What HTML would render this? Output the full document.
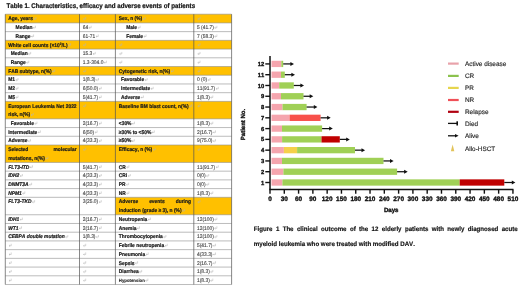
<!DOCTYPE html>
<html><head><meta charset="utf-8"><title>Table and figure</title><style>
html,body{margin:0;padding:0;background:#fff;width:520px;height:288px;overflow:hidden}
body{font-family:"Liberation Sans",sans-serif}
svg{display:block;will-change:transform}
text{font-kerning:none;text-rendering:geometricPrecision}
</style></head><body>
<svg width="520" height="288" viewBox="0 0 520 288" font-family="'Liberation Sans', sans-serif" fill="#111" text-rendering="geometricPrecision" stroke-linejoin="round">
<rect width="520" height="288" fill="#fff"/>
<rect x="5.3" y="14.20" width="226.30" height="8.72" fill="#FFC000"/>
<rect x="5.3" y="40.36" width="226.30" height="8.72" fill="#FFC000"/>
<rect x="5.3" y="66.52" width="226.30" height="8.72" fill="#FFC000"/>
<rect x="5.3" y="101.40" width="226.30" height="17.44" fill="#FFC000"/>
<rect x="5.3" y="145.00" width="226.30" height="17.44" fill="#FFC000"/>
<rect x="115.4" y="197.32" width="116.20" height="17.44" fill="#FFC000"/>
<line x1="5.3" x2="231.6" y1="14.20" y2="14.20" stroke="#8f8f8f" stroke-width="0.6"/>
<line x1="5.3" x2="231.6" y1="22.92" y2="22.92" stroke="#8f8f8f" stroke-width="0.6"/>
<line x1="5.3" x2="231.6" y1="31.64" y2="31.64" stroke="#8f8f8f" stroke-width="0.6"/>
<line x1="5.3" x2="231.6" y1="40.36" y2="40.36" stroke="#8f8f8f" stroke-width="0.6"/>
<line x1="5.3" x2="231.6" y1="49.08" y2="49.08" stroke="#8f8f8f" stroke-width="0.6"/>
<line x1="5.3" x2="231.6" y1="57.80" y2="57.80" stroke="#8f8f8f" stroke-width="0.6"/>
<line x1="5.3" x2="231.6" y1="66.52" y2="66.52" stroke="#8f8f8f" stroke-width="0.6"/>
<line x1="5.3" x2="231.6" y1="75.24" y2="75.24" stroke="#8f8f8f" stroke-width="0.6"/>
<line x1="5.3" x2="231.6" y1="83.96" y2="83.96" stroke="#8f8f8f" stroke-width="0.6"/>
<line x1="5.3" x2="231.6" y1="92.68" y2="92.68" stroke="#8f8f8f" stroke-width="0.6"/>
<line x1="5.3" x2="231.6" y1="101.40" y2="101.40" stroke="#8f8f8f" stroke-width="0.6"/>
<line x1="5.3" x2="231.6" y1="118.84" y2="118.84" stroke="#8f8f8f" stroke-width="0.6"/>
<line x1="5.3" x2="231.6" y1="127.56" y2="127.56" stroke="#8f8f8f" stroke-width="0.6"/>
<line x1="5.3" x2="231.6" y1="136.28" y2="136.28" stroke="#8f8f8f" stroke-width="0.6"/>
<line x1="5.3" x2="231.6" y1="145.00" y2="145.00" stroke="#8f8f8f" stroke-width="0.6"/>
<line x1="5.3" x2="231.6" y1="162.44" y2="162.44" stroke="#8f8f8f" stroke-width="0.6"/>
<line x1="5.3" x2="231.6" y1="171.16" y2="171.16" stroke="#8f8f8f" stroke-width="0.6"/>
<line x1="5.3" x2="231.6" y1="179.88" y2="179.88" stroke="#8f8f8f" stroke-width="0.6"/>
<line x1="5.3" x2="231.6" y1="188.60" y2="188.60" stroke="#8f8f8f" stroke-width="0.6"/>
<line x1="5.3" x2="231.6" y1="197.32" y2="197.32" stroke="#8f8f8f" stroke-width="0.6"/>
<line x1="5.3" x2="231.6" y1="214.76" y2="214.76" stroke="#8f8f8f" stroke-width="0.6"/>
<line x1="5.3" x2="231.6" y1="223.48" y2="223.48" stroke="#8f8f8f" stroke-width="0.6"/>
<line x1="5.3" x2="231.6" y1="232.20" y2="232.20" stroke="#8f8f8f" stroke-width="0.6"/>
<line x1="5.3" x2="231.6" y1="240.92" y2="240.92" stroke="#8f8f8f" stroke-width="0.6"/>
<line x1="5.3" x2="231.6" y1="249.64" y2="249.64" stroke="#8f8f8f" stroke-width="0.6"/>
<line x1="5.3" x2="231.6" y1="258.36" y2="258.36" stroke="#8f8f8f" stroke-width="0.6"/>
<line x1="5.3" x2="231.6" y1="267.08" y2="267.08" stroke="#8f8f8f" stroke-width="0.6"/>
<line x1="5.3" x2="231.6" y1="275.80" y2="275.80" stroke="#8f8f8f" stroke-width="0.6"/>
<line x1="5.3" x2="231.6" y1="284.52" y2="284.52" stroke="#8f8f8f" stroke-width="0.6"/>
<line x1="5.3" x2="5.3" y1="14.2" y2="284.52" stroke="#555" stroke-width="0.7"/>
<line x1="79.5" x2="79.5" y1="14.2" y2="284.52" stroke="#555" stroke-width="0.7"/>
<line x1="115.4" x2="115.4" y1="14.2" y2="284.52" stroke="#555" stroke-width="0.7"/>
<line x1="193.8" x2="193.8" y1="14.2" y2="284.52" stroke="#555" stroke-width="0.7"/>
<line x1="231.6" x2="231.6" y1="14.2" y2="284.52" stroke="#555" stroke-width="0.7"/>
<text transform="translate(8.20 20.35) scale(1.0000 1.0800)" font-size="4.9" font-weight="bold" fill="#1a1a1a" stroke="#1a1a1a" stroke-width="0.19">Age, years</text>
<path d="M35.99 17.05V19.05H33.79M34.69 18.25L33.79 19.05L34.69 19.85" stroke="#b4b4b4" stroke-width="0.55" fill="none"/>
<path d="M85.70 17.05V19.05H83.50M84.40 18.25L83.50 19.05L84.40 19.85" stroke="#b4b4b4" stroke-width="0.55" fill="none"/>
<text transform="translate(118.80 20.35) scale(1.0000 1.0800)" font-size="4.9" font-weight="bold" fill="#1a1a1a" stroke="#1a1a1a" stroke-width="0.19">Sex, n (%)</text>
<path d="M145.22 17.05V19.05H143.02M143.92 18.25L143.02 19.05L143.92 19.85" stroke="#b4b4b4" stroke-width="0.55" fill="none"/>
<path d="M200.00 17.05V19.05H197.80M198.70 18.25L197.80 19.05L198.70 19.85" stroke="#b4b4b4" stroke-width="0.55" fill="none"/>
<text transform="translate(15.60 29.07) scale(1.0000 1.0800)" font-size="4.9" font-weight="bold" fill="#1a1a1a" stroke="#1a1a1a" stroke-width="0.19">Median</text>
<path d="M35.48 25.77V27.77H33.28M34.18 26.97L33.28 27.77L34.18 28.57" stroke="#b4b4b4" stroke-width="0.55" fill="none"/>
<text transform="translate(82.70 29.07) scale(1.0000 1.0800)" font-size="4.9" fill="#4a4a4a" stroke="#4a4a4a" stroke-width="0.12">64</text>
<path d="M91.15 25.77V27.77H88.95M89.85 26.97L88.95 27.77L89.85 28.57" stroke="#b4b4b4" stroke-width="0.55" fill="none"/>
<text transform="translate(126.20 29.07) scale(1.0000 1.0800)" font-size="4.9" font-weight="bold" fill="#1a1a1a" stroke="#1a1a1a" stroke-width="0.19">Male</text>
<path d="M140.09 25.77V27.77H137.89M138.79 26.97L137.89 27.77L138.79 28.57" stroke="#b4b4b4" stroke-width="0.55" fill="none"/>
<text transform="translate(197.00 29.07) scale(1.0000 1.0800)" font-size="4.9" fill="#4a4a4a" stroke="#4a4a4a" stroke-width="0.12">5 (41.7)</text>
<path d="M216.89 25.77V27.77H214.69M215.59 26.97L214.69 27.77L215.59 28.57" stroke="#b4b4b4" stroke-width="0.55" fill="none"/>
<text transform="translate(15.60 37.79) scale(1.0000 1.0800)" font-size="4.9" font-weight="bold" fill="#1a1a1a" stroke="#1a1a1a" stroke-width="0.19">Range</text>
<path d="M33.58 34.49V36.49H31.38M32.28 35.69L31.38 36.49L32.28 37.29" stroke="#b4b4b4" stroke-width="0.55" fill="none"/>
<text transform="translate(82.70 37.79) scale(1.0000 1.0800)" font-size="4.9" fill="#4a4a4a" stroke="#4a4a4a" stroke-width="0.12">61-71</text>
<path d="M98.23 34.49V36.49H96.03M96.93 35.69L96.03 36.49L96.93 37.29" stroke="#b4b4b4" stroke-width="0.55" fill="none"/>
<text transform="translate(126.20 37.79) scale(1.0000 1.0800)" font-size="4.9" font-weight="bold" fill="#1a1a1a" stroke="#1a1a1a" stroke-width="0.19">Female</text>
<path d="M146.09 34.49V36.49H143.89M144.79 35.69L143.89 36.49L144.79 37.29" stroke="#b4b4b4" stroke-width="0.55" fill="none"/>
<text transform="translate(197.00 37.79) scale(1.0000 1.0800)" font-size="4.9" fill="#4a4a4a" stroke="#4a4a4a" stroke-width="0.12">7 (58.3)</text>
<path d="M216.89 34.49V36.49H214.69M215.59 35.69L214.69 36.49L215.59 37.29" stroke="#b4b4b4" stroke-width="0.55" fill="none"/>
<text transform="translate(8.20 46.51) scale(1.0000 1.0800)" font-size="4.9" font-weight="bold" fill="#1a1a1a" stroke="#1a1a1a" stroke-width="0.19">White cell counts (×10</text>
<text transform="translate(59.80 44.91) scale(1.0000 1.0800)" font-size="3.283" font-weight="bold" fill="#1a1a1a" stroke="#1a1a1a" stroke-width="0.13">9</text>
<text transform="translate(61.62 46.51) scale(1.0000 1.0800)" font-size="4.9" font-weight="bold" fill="#1a1a1a" stroke="#1a1a1a" stroke-width="0.19">/L)</text>
<path d="M70.61 43.21V45.21H68.41M69.31 44.41L68.41 45.21L69.31 46.01" stroke="#b4b4b4" stroke-width="0.55" fill="none"/>
<path d="M85.70 43.21V45.21H83.50M84.40 44.41L83.50 45.21L84.40 46.01" stroke="#b4b4b4" stroke-width="0.55" fill="none"/>
<path d="M121.80 43.21V45.21H119.60M120.50 44.41L119.60 45.21L120.50 46.01" stroke="#b4b4b4" stroke-width="0.55" fill="none"/>
<path d="M200.00 43.21V45.21H197.80M198.70 44.41L197.80 45.21L198.70 46.01" stroke="#b4b4b4" stroke-width="0.55" fill="none"/>
<text transform="translate(10.79 55.23) scale(1.0000 1.0800)" font-size="4.9" font-weight="bold" fill="#1a1a1a" stroke="#1a1a1a" stroke-width="0.19">Median</text>
<path d="M30.67 51.93V53.93H28.47M29.37 53.13L28.47 53.93L29.37 54.73" stroke="#b4b4b4" stroke-width="0.55" fill="none"/>
<text transform="translate(82.70 55.23) scale(1.0000 1.0800)" font-size="4.9" fill="#4a4a4a" stroke="#4a4a4a" stroke-width="0.12">15.3</text>
<path d="M95.24 51.93V53.93H93.04M93.94 53.13L93.04 53.93L93.94 54.73" stroke="#b4b4b4" stroke-width="0.55" fill="none"/>
<path d="M121.80 51.93V53.93H119.60M120.50 53.13L119.60 53.93L120.50 54.73" stroke="#b4b4b4" stroke-width="0.55" fill="none"/>
<path d="M200.00 51.93V53.93H197.80M198.70 53.13L197.80 53.93L198.70 54.73" stroke="#b4b4b4" stroke-width="0.55" fill="none"/>
<text transform="translate(10.79 63.95) scale(1.0000 1.0800)" font-size="4.9" font-weight="bold" fill="#1a1a1a" stroke="#1a1a1a" stroke-width="0.19">Range</text>
<path d="M28.77 60.65V62.65H26.57M27.47 61.85L26.57 62.65L27.47 63.45" stroke="#b4b4b4" stroke-width="0.55" fill="none"/>
<text transform="translate(82.70 63.95) scale(1.0000 1.0800)" font-size="4.9" fill="#4a4a4a" stroke="#4a4a4a" stroke-width="0.12">1.3-304.0</text>
<path d="M106.41 60.65V62.65H104.21M105.11 61.85L104.21 62.65L105.11 63.45" stroke="#b4b4b4" stroke-width="0.55" fill="none"/>
<path d="M121.80 60.65V62.65H119.60M120.50 61.85L119.60 62.65L120.50 63.45" stroke="#b4b4b4" stroke-width="0.55" fill="none"/>
<path d="M200.00 60.65V62.65H197.80M198.70 61.85L197.80 62.65L198.70 63.45" stroke="#b4b4b4" stroke-width="0.55" fill="none"/>
<text transform="translate(8.20 72.67) scale(1.0000 1.0800)" font-size="4.9" font-weight="bold" fill="#1a1a1a" stroke="#1a1a1a" stroke-width="0.19">FAB subtype, n(%)</text>
<path d="M54.75 69.37V71.37H52.55M53.45 70.57L52.55 71.37L53.45 72.17" stroke="#b4b4b4" stroke-width="0.55" fill="none"/>
<path d="M85.70 69.37V71.37H83.50M84.40 70.57L83.50 71.37L84.40 72.17" stroke="#b4b4b4" stroke-width="0.55" fill="none"/>
<text transform="translate(118.80 72.67) scale(1.0000 1.0800)" font-size="4.9" font-weight="bold" fill="#1a1a1a" stroke="#1a1a1a" stroke-width="0.19">Cytogenetic risk, n(%)</text>
<path d="M173.26 69.37V71.37H171.06M171.96 70.57L171.06 71.37L171.96 72.17" stroke="#b4b4b4" stroke-width="0.55" fill="none"/>
<path d="M200.00 69.37V71.37H197.80M198.70 70.57L197.80 71.37L198.70 72.17" stroke="#b4b4b4" stroke-width="0.55" fill="none"/>
<text transform="translate(8.20 81.39) scale(1.0000 1.0800)" font-size="4.9" font-weight="bold" fill="#1a1a1a" stroke="#1a1a1a" stroke-width="0.19">M1</text>
<path d="M18.01 78.09V80.09H15.81M16.71 79.29L15.81 80.09L16.71 80.89" stroke="#b4b4b4" stroke-width="0.55" fill="none"/>
<text transform="translate(82.70 81.39) scale(1.0000 1.0800)" font-size="4.9" fill="#4a4a4a" stroke="#4a4a4a" stroke-width="0.12">1(8.3)</text>
<path d="M98.50 78.09V80.09H96.30M97.20 79.29L96.30 80.09L97.20 80.89" stroke="#b4b4b4" stroke-width="0.55" fill="none"/>
<text transform="translate(121.02 81.39) scale(1.0000 1.0800)" font-size="4.9" font-weight="bold" fill="#1a1a1a" stroke="#1a1a1a" stroke-width="0.19">Favorable</text>
<path d="M147.17 78.09V80.09H144.97M145.87 79.29L144.97 80.09L145.87 80.89" stroke="#b4b4b4" stroke-width="0.55" fill="none"/>
<text transform="translate(197.00 81.39) scale(1.0000 1.0800)" font-size="4.9" fill="#4a4a4a" stroke="#4a4a4a" stroke-width="0.12">0 (0)</text>
<path d="M210.08 78.09V80.09H207.88M208.78 79.29L207.88 80.09L208.78 80.89" stroke="#b4b4b4" stroke-width="0.55" fill="none"/>
<text transform="translate(8.20 90.11) scale(1.0000 1.0800)" font-size="4.9" font-weight="bold" fill="#1a1a1a" stroke="#1a1a1a" stroke-width="0.19">M2</text>
<path d="M18.01 86.81V88.81H15.81M16.71 88.01L15.81 88.81L16.71 89.61" stroke="#b4b4b4" stroke-width="0.55" fill="none"/>
<text transform="translate(82.70 90.11) scale(1.0000 1.0800)" font-size="4.9" fill="#4a4a4a" stroke="#4a4a4a" stroke-width="0.12">6(50.0)</text>
<path d="M101.23 86.81V88.81H99.03M99.93 88.01L99.03 88.81L99.93 89.61" stroke="#b4b4b4" stroke-width="0.55" fill="none"/>
<text transform="translate(121.02 90.11) scale(1.0000 1.0800)" font-size="4.9" font-weight="bold" fill="#1a1a1a" stroke="#1a1a1a" stroke-width="0.19">Intermediate</text>
<path d="M153.16 86.81V88.81H150.96M151.86 88.01L150.96 88.81L151.86 89.61" stroke="#b4b4b4" stroke-width="0.55" fill="none"/>
<text transform="translate(197.00 90.11) scale(1.0000 1.0800)" font-size="4.9" fill="#4a4a4a" stroke="#4a4a4a" stroke-width="0.12">11(91.7)</text>
<path d="M218.25 86.81V88.81H216.05M216.95 88.01L216.05 88.81L216.95 89.61" stroke="#b4b4b4" stroke-width="0.55" fill="none"/>
<text transform="translate(8.20 98.83) scale(1.0000 1.0800)" font-size="4.9" font-weight="bold" fill="#1a1a1a" stroke="#1a1a1a" stroke-width="0.19">M5</text>
<path d="M18.01 95.53V97.53H15.81M16.71 96.73L15.81 97.53L16.71 98.33" stroke="#b4b4b4" stroke-width="0.55" fill="none"/>
<text transform="translate(82.70 98.83) scale(1.0000 1.0800)" font-size="4.9" fill="#4a4a4a" stroke="#4a4a4a" stroke-width="0.12">5(41.7)</text>
<path d="M101.23 95.53V97.53H99.03M99.93 96.73L99.03 97.53L99.93 98.33" stroke="#b4b4b4" stroke-width="0.55" fill="none"/>
<text transform="translate(121.02 98.83) scale(1.0000 1.0800)" font-size="4.9" font-weight="bold" fill="#1a1a1a" stroke="#1a1a1a" stroke-width="0.19">Adverse</text>
<path d="M143.36 95.53V97.53H141.16M142.06 96.73L141.16 97.53L142.06 98.33" stroke="#b4b4b4" stroke-width="0.55" fill="none"/>
<text transform="translate(197.00 98.83) scale(1.0000 1.0800)" font-size="4.9" fill="#4a4a4a" stroke="#4a4a4a" stroke-width="0.12">1(8.3)</text>
<path d="M212.80 95.53V97.53H210.60M211.50 96.73L210.60 97.53L211.50 98.33" stroke="#b4b4b4" stroke-width="0.55" fill="none"/>
<text transform="translate(8.20 107.55) scale(1.0000 1.0800)" font-size="4.9" font-weight="bold" fill="#1a1a1a" stroke="#1a1a1a" stroke-width="0.19">European</text>
<text transform="translate(32.26 107.55) scale(1.0000 1.0800)" font-size="4.9" font-weight="bold" fill="#1a1a1a" stroke="#1a1a1a" stroke-width="0.19">Leukemia</text>
<text transform="translate(56.34 107.55) scale(1.0000 1.0800)" font-size="4.9" font-weight="bold" fill="#1a1a1a" stroke="#1a1a1a" stroke-width="0.19">Net</text>
<text transform="translate(65.70 107.55) scale(1.0000 1.0800)" font-size="4.9" font-weight="bold" fill="#1a1a1a" stroke="#1a1a1a" stroke-width="0.19">2022</text>
<text transform="translate(8.20 116.27) scale(1.0000 1.0800)" font-size="4.9" font-weight="bold" fill="#1a1a1a" stroke="#1a1a1a" stroke-width="0.19">risk, n(%)</text>
<path d="M33.25 112.97V114.97H31.05M31.95 114.17L31.05 114.97L31.95 115.77" stroke="#b4b4b4" stroke-width="0.55" fill="none"/>
<path d="M85.70 104.25V106.25H83.50M84.40 105.45L83.50 106.25L84.40 107.05" stroke="#b4b4b4" stroke-width="0.55" fill="none"/>
<text transform="translate(118.80 107.55) scale(1.0000 1.0800)" font-size="4.9" font-weight="bold" fill="#1a1a1a" stroke="#1a1a1a" stroke-width="0.19">Baseline BM blast count, n(%)</text>
<path d="M191.77 104.25V106.25H189.57M190.47 105.45L189.57 106.25L190.47 107.05" stroke="#b4b4b4" stroke-width="0.55" fill="none"/>
<path d="M200.00 104.25V106.25H197.80M198.70 105.45L197.80 106.25L198.70 107.05" stroke="#b4b4b4" stroke-width="0.55" fill="none"/>
<text transform="translate(10.79 124.99) scale(1.0000 1.0800)" font-size="4.9" font-weight="bold" fill="#1a1a1a" stroke="#1a1a1a" stroke-width="0.19">Favorable</text>
<path d="M36.94 121.69V123.69H34.74M35.64 122.89L34.74 123.69L35.64 124.49" stroke="#b4b4b4" stroke-width="0.55" fill="none"/>
<text transform="translate(82.70 124.99) scale(1.0000 1.0800)" font-size="4.9" fill="#4a4a4a" stroke="#4a4a4a" stroke-width="0.12">2(16.7)</text>
<path d="M101.23 121.69V123.69H99.03M99.93 122.89L99.03 123.69L99.93 124.49" stroke="#b4b4b4" stroke-width="0.55" fill="none"/>
<text transform="translate(118.80 124.99) scale(1.0000 1.0800)" font-size="4.9" font-weight="bold" fill="#1a1a1a" stroke="#1a1a1a" stroke-width="0.19">&lt;30%</text>
<path d="M134.47 121.69V123.69H132.27M133.17 122.89L132.27 123.69L133.17 124.49" stroke="#b4b4b4" stroke-width="0.55" fill="none"/>
<text transform="translate(197.00 124.99) scale(1.0000 1.0800)" font-size="4.9" fill="#4a4a4a" stroke="#4a4a4a" stroke-width="0.12">1(8.3)</text>
<path d="M212.80 121.69V123.69H210.60M211.50 122.89L210.60 123.69L211.50 124.49" stroke="#b4b4b4" stroke-width="0.55" fill="none"/>
<text transform="translate(8.20 133.71) scale(1.0000 1.0800)" font-size="4.9" font-weight="bold" fill="#1a1a1a" stroke="#1a1a1a" stroke-width="0.19">Intermediate</text>
<path d="M40.34 130.41V132.41H38.14M39.04 131.61L38.14 132.41L39.04 133.21" stroke="#b4b4b4" stroke-width="0.55" fill="none"/>
<text transform="translate(82.70 133.71) scale(1.0000 1.0800)" font-size="4.9" fill="#4a4a4a" stroke="#4a4a4a" stroke-width="0.12">6(50)</text>
<path d="M97.14 130.41V132.41H94.94M95.84 131.61L94.94 132.41L95.84 133.21" stroke="#b4b4b4" stroke-width="0.55" fill="none"/>
<text transform="translate(118.80 133.71) scale(1.0000 1.0800)" font-size="4.9" font-weight="bold" fill="#1a1a1a" stroke="#1a1a1a" stroke-width="0.19">≥30% to &lt;50%</text>
<path d="M154.31 130.41V132.41H152.11M153.01 131.61L152.11 132.41L153.01 133.21" stroke="#b4b4b4" stroke-width="0.55" fill="none"/>
<text transform="translate(197.00 133.71) scale(1.0000 1.0800)" font-size="4.9" fill="#4a4a4a" stroke="#4a4a4a" stroke-width="0.12">2(16.7)</text>
<path d="M215.53 130.41V132.41H213.33M214.23 131.61L213.33 132.41L214.23 133.21" stroke="#b4b4b4" stroke-width="0.55" fill="none"/>
<text transform="translate(8.20 142.43) scale(1.0000 1.0800)" font-size="4.9" font-weight="bold" fill="#1a1a1a" stroke="#1a1a1a" stroke-width="0.19">Adverse</text>
<path d="M30.54 139.13V141.13H28.34M29.24 140.33L28.34 141.13L29.24 141.93" stroke="#b4b4b4" stroke-width="0.55" fill="none"/>
<text transform="translate(82.70 142.43) scale(1.0000 1.0800)" font-size="4.9" fill="#4a4a4a" stroke="#4a4a4a" stroke-width="0.12">4(33.3)</text>
<path d="M101.23 139.13V141.13H99.03M99.93 140.33L99.03 141.13L99.93 141.93" stroke="#b4b4b4" stroke-width="0.55" fill="none"/>
<text transform="translate(118.80 142.43) scale(1.0000 1.0800)" font-size="4.9" font-weight="bold" fill="#1a1a1a" stroke="#1a1a1a" stroke-width="0.19">≥50%</text>
<path d="M134.30 139.13V141.13H132.10M133.00 140.33L132.10 141.13L133.00 141.93" stroke="#b4b4b4" stroke-width="0.55" fill="none"/>
<text transform="translate(197.00 142.43) scale(1.0000 1.0800)" font-size="4.9" fill="#4a4a4a" stroke="#4a4a4a" stroke-width="0.12">9(75.0)</text>
<path d="M215.53 139.13V141.13H213.33M214.23 140.33L213.33 141.13L214.23 141.93" stroke="#b4b4b4" stroke-width="0.55" fill="none"/>
<text transform="translate(8.20 151.15) scale(1.0000 1.0800)" font-size="4.9" font-weight="bold" fill="#1a1a1a" stroke="#1a1a1a" stroke-width="0.19">Selected</text>
<text transform="translate(53.45 151.15) scale(1.0000 1.0800)" font-size="4.9" font-weight="bold" fill="#1a1a1a" stroke="#1a1a1a" stroke-width="0.19">molecular</text>
<text transform="translate(8.20 159.87) scale(1.0000 1.0800)" font-size="4.9" font-weight="bold" fill="#1a1a1a" stroke="#1a1a1a" stroke-width="0.19">mutations, n(%)</text>
<path d="M47.95 156.57V158.57H45.75M46.65 157.77L45.75 158.57L46.65 159.37" stroke="#b4b4b4" stroke-width="0.55" fill="none"/>
<path d="M85.70 147.85V149.85H83.50M84.40 149.05L83.50 149.85L84.40 150.65" stroke="#b4b4b4" stroke-width="0.55" fill="none"/>
<text transform="translate(118.80 151.15) scale(1.0000 1.0800)" font-size="4.9" font-weight="bold" fill="#1a1a1a" stroke="#1a1a1a" stroke-width="0.19">Efficacy, n (%)</text>
<path d="M155.29 147.85V149.85H153.09M153.99 149.05L153.09 149.85L153.99 150.65" stroke="#b4b4b4" stroke-width="0.55" fill="none"/>
<path d="M200.00 147.85V149.85H197.80M198.70 149.05L197.80 149.85L198.70 150.65" stroke="#b4b4b4" stroke-width="0.55" fill="none"/>
<text transform="translate(8.20 168.59) scale(1.0000 1.0800)" font-size="4.9" font-weight="bold" font-style="italic" fill="#1a1a1a" stroke="#1a1a1a" stroke-width="0.19">FLT3-ITD</text>
<path d="M32.43 165.29V167.29H30.23M31.13 166.49L30.23 167.29L31.13 168.09" stroke="#b4b4b4" stroke-width="0.55" fill="none"/>
<text transform="translate(82.70 168.59) scale(1.0000 1.0800)" font-size="4.9" fill="#4a4a4a" stroke="#4a4a4a" stroke-width="0.12">5(41.7)</text>
<path d="M101.23 165.29V167.29H99.03M99.93 166.49L99.03 167.29L99.93 168.09" stroke="#b4b4b4" stroke-width="0.55" fill="none"/>
<text transform="translate(118.80 168.59) scale(1.0000 1.0800)" font-size="4.9" font-weight="bold" fill="#1a1a1a" stroke="#1a1a1a" stroke-width="0.19">CR</text>
<path d="M128.88 165.29V167.29H126.68M127.58 166.49L126.68 167.29L127.58 168.09" stroke="#b4b4b4" stroke-width="0.55" fill="none"/>
<text transform="translate(197.00 168.59) scale(1.0000 1.0800)" font-size="4.9" fill="#4a4a4a" stroke="#4a4a4a" stroke-width="0.12">11(91.7)</text>
<path d="M218.25 165.29V167.29H216.05M216.95 166.49L216.05 167.29L216.95 168.09" stroke="#b4b4b4" stroke-width="0.55" fill="none"/>
<text transform="translate(8.20 177.31) scale(1.0000 1.0800)" font-size="4.9" font-weight="bold" font-style="italic" fill="#1a1a1a" stroke="#1a1a1a" stroke-width="0.19">IDH2</text>
<path d="M22.36 174.01V176.01H20.16M21.06 175.21L20.16 176.01L21.06 176.81" stroke="#b4b4b4" stroke-width="0.55" fill="none"/>
<text transform="translate(82.70 177.31) scale(1.0000 1.0800)" font-size="4.9" fill="#4a4a4a" stroke="#4a4a4a" stroke-width="0.12">4(33.3)</text>
<path d="M101.23 174.01V176.01H99.03M99.93 175.21L99.03 176.01L99.93 176.81" stroke="#b4b4b4" stroke-width="0.55" fill="none"/>
<text transform="translate(118.80 177.31) scale(1.0000 1.0800)" font-size="4.9" font-weight="bold" fill="#1a1a1a" stroke="#1a1a1a" stroke-width="0.19">CRi</text>
<path d="M130.24 174.01V176.01H128.04M128.94 175.21L128.04 176.01L128.94 176.81" stroke="#b4b4b4" stroke-width="0.55" fill="none"/>
<text transform="translate(197.00 177.31) scale(1.0000 1.0800)" font-size="4.9" fill="#4a4a4a" stroke="#4a4a4a" stroke-width="0.12">0(0)</text>
<path d="M208.71 174.01V176.01H206.51M207.41 175.21L206.51 176.01L207.41 176.81" stroke="#b4b4b4" stroke-width="0.55" fill="none"/>
<text transform="translate(8.20 186.03) scale(1.0000 1.0800)" font-size="4.9" font-weight="bold" font-style="italic" fill="#1a1a1a" stroke="#1a1a1a" stroke-width="0.19">DNMT3A</text>
<path d="M31.62 182.73V184.73H29.42M30.32 183.93L29.42 184.73L30.32 185.53" stroke="#b4b4b4" stroke-width="0.55" fill="none"/>
<text transform="translate(82.70 186.03) scale(1.0000 1.0800)" font-size="4.9" fill="#4a4a4a" stroke="#4a4a4a" stroke-width="0.12">4(33.3)</text>
<path d="M101.23 182.73V184.73H99.03M99.93 183.93L99.03 184.73L99.93 185.53" stroke="#b4b4b4" stroke-width="0.55" fill="none"/>
<text transform="translate(118.80 186.03) scale(1.0000 1.0800)" font-size="4.9" font-weight="bold" fill="#1a1a1a" stroke="#1a1a1a" stroke-width="0.19">PR</text>
<path d="M128.61 182.73V184.73H126.41M127.31 183.93L126.41 184.73L127.31 185.53" stroke="#b4b4b4" stroke-width="0.55" fill="none"/>
<text transform="translate(197.00 186.03) scale(1.0000 1.0800)" font-size="4.9" fill="#4a4a4a" stroke="#4a4a4a" stroke-width="0.12">0(0)</text>
<path d="M208.71 182.73V184.73H206.51M207.41 183.93L206.51 184.73L207.41 185.53" stroke="#b4b4b4" stroke-width="0.55" fill="none"/>
<text transform="translate(8.20 194.75) scale(1.0000 1.0800)" font-size="4.9" font-weight="bold" font-style="italic" fill="#1a1a1a" stroke="#1a1a1a" stroke-width="0.19">NPM1</text>
<path d="M24.81 191.45V193.45H22.61M23.51 192.65L22.61 193.45L23.51 194.25" stroke="#b4b4b4" stroke-width="0.55" fill="none"/>
<text transform="translate(82.70 194.75) scale(1.0000 1.0800)" font-size="4.9" fill="#4a4a4a" stroke="#4a4a4a" stroke-width="0.12">4(33.3)</text>
<path d="M101.23 191.45V193.45H99.03M99.93 192.65L99.03 193.45L99.93 194.25" stroke="#b4b4b4" stroke-width="0.55" fill="none"/>
<text transform="translate(118.80 194.75) scale(1.0000 1.0800)" font-size="4.9" font-weight="bold" fill="#1a1a1a" stroke="#1a1a1a" stroke-width="0.19">NR</text>
<path d="M128.88 191.45V193.45H126.68M127.58 192.65L126.68 193.45L127.58 194.25" stroke="#b4b4b4" stroke-width="0.55" fill="none"/>
<text transform="translate(197.00 194.75) scale(1.0000 1.0800)" font-size="4.9" fill="#4a4a4a" stroke="#4a4a4a" stroke-width="0.12">1(8.3)</text>
<path d="M212.80 191.45V193.45H210.60M211.50 192.65L210.60 193.45L211.50 194.25" stroke="#b4b4b4" stroke-width="0.55" fill="none"/>
<text transform="translate(8.20 203.47) scale(1.0000 1.0800)" font-size="4.9" font-weight="bold" font-style="italic" fill="#1a1a1a" stroke="#1a1a1a" stroke-width="0.19">FLT3-TKD</text>
<path d="M34.61 200.17V202.17H32.41M33.31 201.37L32.41 202.17L33.31 202.97" stroke="#b4b4b4" stroke-width="0.55" fill="none"/>
<text transform="translate(82.70 203.47) scale(1.0000 1.0800)" font-size="4.9" fill="#4a4a4a" stroke="#4a4a4a" stroke-width="0.12">3(25.0)</text>
<path d="M101.23 200.17V202.17H99.03M99.93 201.37L99.03 202.17L99.93 202.97" stroke="#b4b4b4" stroke-width="0.55" fill="none"/>
<text transform="translate(118.80 203.47) scale(1.0000 1.0800)" font-size="4.9" font-weight="bold" fill="#1a1a1a" stroke="#1a1a1a" stroke-width="0.19">Adverse</text>
<text transform="translate(149.14 203.47) scale(1.0000 1.0800)" font-size="4.9" font-weight="bold" fill="#1a1a1a" stroke="#1a1a1a" stroke-width="0.19">events</text>
<text transform="translate(175.66 203.47) scale(1.0000 1.0800)" font-size="4.9" font-weight="bold" fill="#1a1a1a" stroke="#1a1a1a" stroke-width="0.19">during</text>
<text transform="translate(118.80 212.19) scale(1.0000 1.0800)" font-size="4.9" font-weight="bold" fill="#1a1a1a" stroke="#1a1a1a" stroke-width="0.19">induction (grade ≥ 3), n (%)</text>
<path d="M184.65 208.89V210.89H182.45M183.35 210.09L182.45 210.89L183.35 211.69" stroke="#b4b4b4" stroke-width="0.55" fill="none"/>
<path d="M200.00 200.17V202.17H197.80M198.70 201.37L197.80 202.17L198.70 202.97" stroke="#b4b4b4" stroke-width="0.55" fill="none"/>
<text transform="translate(8.20 220.91) scale(1.0000 1.0800)" font-size="4.9" font-weight="bold" font-style="italic" fill="#1a1a1a" stroke="#1a1a1a" stroke-width="0.19">IDH1</text>
<path d="M22.36 217.61V219.61H20.16M21.06 218.81L20.16 219.61L21.06 220.41" stroke="#b4b4b4" stroke-width="0.55" fill="none"/>
<text transform="translate(82.70 220.91) scale(1.0000 1.0800)" font-size="4.9" fill="#4a4a4a" stroke="#4a4a4a" stroke-width="0.12">2(16.7)</text>
<path d="M101.23 217.61V219.61H99.03M99.93 218.81L99.03 219.61L99.93 220.41" stroke="#b4b4b4" stroke-width="0.55" fill="none"/>
<text transform="translate(118.80 220.91) scale(1.0000 1.0800)" font-size="4.9" font-weight="bold" fill="#1a1a1a" stroke="#1a1a1a" stroke-width="0.19">Neutropenia</text>
<path d="M150.39 217.61V219.61H148.19M149.09 218.81L148.19 219.61L149.09 220.41" stroke="#b4b4b4" stroke-width="0.55" fill="none"/>
<text transform="translate(197.00 220.91) scale(1.0000 1.0800)" font-size="4.9" fill="#4a4a4a" stroke="#4a4a4a" stroke-width="0.12">12(100)</text>
<path d="M216.89 217.61V219.61H214.69M215.59 218.81L214.69 219.61L215.59 220.41" stroke="#b4b4b4" stroke-width="0.55" fill="none"/>
<text transform="translate(8.20 229.63) scale(1.0000 1.0800)" font-size="4.9" font-weight="bold" font-style="italic" fill="#1a1a1a" stroke="#1a1a1a" stroke-width="0.19">WT1</text>
<path d="M21.54 226.33V228.33H19.34M20.24 227.53L19.34 228.33L20.24 229.13" stroke="#b4b4b4" stroke-width="0.55" fill="none"/>
<text transform="translate(82.70 229.63) scale(1.0000 1.0800)" font-size="4.9" fill="#4a4a4a" stroke="#4a4a4a" stroke-width="0.12">2(16.7)</text>
<path d="M101.23 226.33V228.33H99.03M99.93 227.53L99.03 228.33L99.93 229.13" stroke="#b4b4b4" stroke-width="0.55" fill="none"/>
<text transform="translate(118.80 229.63) scale(1.0000 1.0800)" font-size="4.9" font-weight="bold" fill="#1a1a1a" stroke="#1a1a1a" stroke-width="0.19">Anemia</text>
<path d="M139.50 226.33V228.33H137.30M138.20 227.53L137.30 228.33L138.20 229.13" stroke="#b4b4b4" stroke-width="0.55" fill="none"/>
<text transform="translate(197.00 229.63) scale(1.0000 1.0800)" font-size="4.9" fill="#4a4a4a" stroke="#4a4a4a" stroke-width="0.12">12(100)</text>
<path d="M216.89 226.33V228.33H214.69M215.59 227.53L214.69 228.33L215.59 229.13" stroke="#b4b4b4" stroke-width="0.55" fill="none"/>
<text transform="translate(8.20 238.35) scale(1.0000 1.0800)" font-size="4.9" font-weight="bold" font-style="italic" fill="#1a1a1a" stroke="#1a1a1a" stroke-width="0.19">CEBPA double mutation</text>
<path d="M67.82 235.05V237.05H65.62M66.52 236.25L65.62 237.05L66.52 237.85" stroke="#b4b4b4" stroke-width="0.55" fill="none"/>
<text transform="translate(82.70 238.35) scale(1.0000 1.0800)" font-size="4.9" fill="#4a4a4a" stroke="#4a4a4a" stroke-width="0.12">1(8.3)</text>
<path d="M98.50 235.05V237.05H96.30M97.20 236.25L96.30 237.05L97.20 237.85" stroke="#b4b4b4" stroke-width="0.55" fill="none"/>
<text transform="translate(118.80 238.35) scale(1.0000 1.0800)" font-size="4.9" font-weight="bold" fill="#1a1a1a" stroke="#1a1a1a" stroke-width="0.19">Thrombocytopenia</text>
<path d="M165.90 235.05V237.05H163.70M164.60 236.25L163.70 237.05L164.60 237.85" stroke="#b4b4b4" stroke-width="0.55" fill="none"/>
<text transform="translate(197.00 238.35) scale(1.0000 1.0800)" font-size="4.9" fill="#4a4a4a" stroke="#4a4a4a" stroke-width="0.12">12(100)</text>
<path d="M216.89 235.05V237.05H214.69M215.59 236.25L214.69 237.05L215.59 237.85" stroke="#b4b4b4" stroke-width="0.55" fill="none"/>
<path d="M11.20 243.77V245.77H9.00M9.90 244.97L9.00 245.77L9.90 246.57" stroke="#b4b4b4" stroke-width="0.55" fill="none"/>
<path d="M85.70 243.77V245.77H83.50M84.40 244.97L83.50 245.77L84.40 246.57" stroke="#b4b4b4" stroke-width="0.55" fill="none"/>
<text transform="translate(118.80 247.07) scale(1.0000 1.0800)" font-size="4.9" font-weight="bold" fill="#1a1a1a" stroke="#1a1a1a" stroke-width="0.19">Febrile neutropenia</text>
<path d="M167.27 243.77V245.77H165.07M165.97 244.97L165.07 245.77L165.97 246.57" stroke="#b4b4b4" stroke-width="0.55" fill="none"/>
<text transform="translate(197.00 247.07) scale(1.0000 1.0800)" font-size="4.9" fill="#4a4a4a" stroke="#4a4a4a" stroke-width="0.12">5(41.7)</text>
<path d="M215.53 243.77V245.77H213.33M214.23 244.97L213.33 245.77L214.23 246.57" stroke="#b4b4b4" stroke-width="0.55" fill="none"/>
<path d="M11.20 252.49V254.49H9.00M9.90 253.69L9.00 254.49L9.90 255.29" stroke="#b4b4b4" stroke-width="0.55" fill="none"/>
<path d="M85.70 252.49V254.49H83.50M84.40 253.69L83.50 254.49L84.40 255.29" stroke="#b4b4b4" stroke-width="0.55" fill="none"/>
<text transform="translate(118.80 255.79) scale(1.0000 1.0800)" font-size="4.9" font-weight="bold" fill="#1a1a1a" stroke="#1a1a1a" stroke-width="0.19">Pneumonia</text>
<path d="M148.21 252.49V254.49H146.01M146.91 253.69L146.01 254.49L146.91 255.29" stroke="#b4b4b4" stroke-width="0.55" fill="none"/>
<text transform="translate(197.00 255.79) scale(1.0000 1.0800)" font-size="4.9" fill="#4a4a4a" stroke="#4a4a4a" stroke-width="0.12">4(33.3)</text>
<path d="M215.53 252.49V254.49H213.33M214.23 253.69L213.33 254.49L214.23 255.29" stroke="#b4b4b4" stroke-width="0.55" fill="none"/>
<path d="M11.20 261.21V263.21H9.00M9.90 262.41L9.00 263.21L9.90 264.01" stroke="#b4b4b4" stroke-width="0.55" fill="none"/>
<path d="M85.70 261.21V263.21H83.50M84.40 262.41L83.50 263.21L84.40 264.01" stroke="#b4b4b4" stroke-width="0.55" fill="none"/>
<text transform="translate(118.80 264.51) scale(1.0000 1.0800)" font-size="4.9" font-weight="bold" fill="#1a1a1a" stroke="#1a1a1a" stroke-width="0.19">Sepsis</text>
<path d="M137.60 261.21V263.21H135.40M136.30 262.41L135.40 263.21L136.30 264.01" stroke="#b4b4b4" stroke-width="0.55" fill="none"/>
<text transform="translate(197.00 264.51) scale(1.0000 1.0800)" font-size="4.9" fill="#4a4a4a" stroke="#4a4a4a" stroke-width="0.12">2(16.7)</text>
<path d="M215.53 261.21V263.21H213.33M214.23 262.41L213.33 263.21L214.23 264.01" stroke="#b4b4b4" stroke-width="0.55" fill="none"/>
<path d="M11.20 269.93V271.93H9.00M9.90 271.13L9.00 271.93L9.90 272.73" stroke="#b4b4b4" stroke-width="0.55" fill="none"/>
<path d="M85.70 269.93V271.93H83.50M84.40 271.13L83.50 271.93L84.40 272.73" stroke="#b4b4b4" stroke-width="0.55" fill="none"/>
<text transform="translate(118.80 273.23) scale(1.0000 1.0800)" font-size="4.9" font-weight="bold" fill="#1a1a1a" stroke="#1a1a1a" stroke-width="0.19">Diarrhea</text>
<path d="M141.68 269.93V271.93H139.48M140.38 271.13L139.48 271.93L140.38 272.73" stroke="#b4b4b4" stroke-width="0.55" fill="none"/>
<text transform="translate(197.00 273.23) scale(1.0000 1.0800)" font-size="4.9" fill="#4a4a4a" stroke="#4a4a4a" stroke-width="0.12">1(8.3)</text>
<path d="M212.80 269.93V271.93H210.60M211.50 271.13L210.60 271.93L211.50 272.73" stroke="#b4b4b4" stroke-width="0.55" fill="none"/>
<path d="M11.20 278.65V280.65H9.00M9.90 279.85L9.00 280.65L9.90 281.45" stroke="#b4b4b4" stroke-width="0.55" fill="none"/>
<path d="M85.70 278.65V280.65H83.50M84.40 279.85L83.50 280.65L84.40 281.45" stroke="#b4b4b4" stroke-width="0.55" fill="none"/>
<text transform="translate(118.80 281.95) scale(1.0000 1.0800)" font-size="4.3" font-weight="bold" fill="#2a2a2a" stroke="#2a2a2a" stroke-width="0.10">Hypotension</text>
<path d="M147.84 278.65V280.65H145.64M146.54 279.85L145.64 280.65L146.54 281.45" stroke="#b4b4b4" stroke-width="0.55" fill="none"/>
<text transform="translate(197.00 281.95) scale(1.0000 1.0800)" font-size="4.9" fill="#4a4a4a" stroke="#4a4a4a" stroke-width="0.12">1(8.3)</text>
<path d="M212.80 278.65V280.65H210.60M211.50 279.85L210.60 280.65L211.50 281.45" stroke="#b4b4b4" stroke-width="0.55" fill="none"/>
<rect x="271.50" y="60.77" width="9.80" height="6.3" fill="#F5A5AE"/>
<rect x="281.30" y="60.77" width="1.90" height="6.3" fill="#A0D056"/>
<line x1="283.20" x2="291.50" y1="63.92" y2="63.92" stroke="#111" stroke-width="1.25"/>
<path d="M294.00 63.92L290.40 61.92L290.40 65.92Z" fill="#111"/>
<rect x="271.50" y="71.55" width="9.50" height="6.3" fill="#F5A5AE"/>
<rect x="281.00" y="71.55" width="3.80" height="6.3" fill="#A0D056"/>
<line x1="284.80" x2="292.50" y1="74.70" y2="74.70" stroke="#111" stroke-width="1.25"/>
<path d="M295.00 74.70L291.40 72.70L291.40 76.70Z" fill="#111"/>
<rect x="271.50" y="82.33" width="7.70" height="6.3" fill="#F5A5AE"/>
<rect x="279.20" y="82.33" width="14.60" height="6.3" fill="#A0D056"/>
<line x1="293.80" x2="301.50" y1="85.48" y2="85.48" stroke="#111" stroke-width="1.25"/>
<path d="M304.00 85.48L300.40 83.48L300.40 87.48Z" fill="#111"/>
<rect x="271.50" y="93.11" width="9.50" height="6.3" fill="#F5A5AE"/>
<rect x="281.00" y="93.11" width="22.50" height="6.3" fill="#A0D056"/>
<line x1="303.50" x2="310.80" y1="96.26" y2="96.26" stroke="#111" stroke-width="1.25"/>
<path d="M313.30 96.26L309.70 94.26L309.70 98.26Z" fill="#111"/>
<rect x="271.50" y="103.89" width="11.00" height="6.3" fill="#F5A5AE"/>
<rect x="282.50" y="103.89" width="24.10" height="6.3" fill="#A0D056"/>
<line x1="306.60" x2="314.90" y1="107.04" y2="107.04" stroke="#111" stroke-width="1.25"/>
<path d="M317.40 107.04L313.80 105.04L313.80 109.04Z" fill="#111"/>
<rect x="271.50" y="114.67" width="18.10" height="6.3" fill="#F5A5AE"/>
<rect x="289.60" y="114.67" width="31.00" height="6.3" fill="#F8504A"/>
<line x1="320.60" x2="328.20" y1="117.82" y2="117.82" stroke="#111" stroke-width="1.25"/>
<path d="M330.70 117.82L327.10 115.82L327.10 119.82Z" fill="#111"/>
<rect x="271.50" y="125.45" width="10.50" height="6.3" fill="#F5A5AE"/>
<rect x="282.00" y="125.45" width="40.10" height="6.3" fill="#A0D056"/>
<line x1="322.10" x2="330.30" y1="128.60" y2="128.60" stroke="#111" stroke-width="1.25"/>
<path d="M332.80 128.60L329.20 126.60L329.20 130.60Z" fill="#111"/>
<rect x="271.50" y="136.23" width="10.60" height="6.3" fill="#F5A5AE"/>
<rect x="282.10" y="136.23" width="39.40" height="6.3" fill="#A0D056"/>
<rect x="321.50" y="136.23" width="18.30" height="6.3" fill="#C00000"/>
<line x1="339.80" x2="347.30" y1="139.38" y2="139.38" stroke="#111" stroke-width="1.25"/>
<path d="M349.80 139.38L346.20 137.38L346.20 141.38Z" fill="#111"/>
<rect x="271.50" y="147.01" width="12.40" height="6.3" fill="#F5A5AE"/>
<rect x="283.90" y="147.01" width="13.20" height="6.3" fill="#F5D04A"/>
<rect x="297.10" y="147.01" width="57.90" height="6.3" fill="#A0D056"/>
<line x1="355.00" x2="362.60" y1="150.16" y2="150.16" stroke="#111" stroke-width="1.25"/>
<path d="M365.10 150.16L361.50 148.16L361.50 152.16Z" fill="#111"/>
<rect x="271.50" y="157.79" width="10.50" height="6.3" fill="#F5A5AE"/>
<rect x="282.00" y="157.79" width="101.50" height="6.3" fill="#A0D056"/>
<line x1="383.50" x2="391.10" y1="160.94" y2="160.94" stroke="#111" stroke-width="1.25"/>
<path d="M393.60 160.94L390.00 158.94L390.00 162.94Z" fill="#111"/>
<rect x="271.50" y="168.57" width="11.90" height="6.3" fill="#F5A5AE"/>
<rect x="283.40" y="168.57" width="113.70" height="6.3" fill="#A0D056"/>
<line x1="397.10" x2="405.20" y1="171.72" y2="171.72" stroke="#111" stroke-width="1.25"/>
<path d="M407.70 171.72L404.10 169.72L404.10 173.72Z" fill="#111"/>
<rect x="271.50" y="179.35" width="10.90" height="6.3" fill="#F5A5AE"/>
<rect x="282.40" y="179.35" width="177.30" height="6.3" fill="#A0D056"/>
<rect x="459.70" y="179.35" width="44.60" height="6.3" fill="#C00000"/>
<line x1="504.30" x2="512.90" y1="182.50" y2="182.50" stroke="#111" stroke-width="1.25"/>
<path d="M515.40 182.50L511.80 180.50L511.80 184.50Z" fill="#111"/>
<line x1="270.0" x2="270.0" y1="55.9" y2="189.5" stroke="#111" stroke-width="1.5"/>
<line x1="269.25" x2="513.43" y1="189.4" y2="189.4" stroke="#111" stroke-width="1.5"/>
<line x1="265.3" x2="270.0" y1="182.50" y2="182.50" stroke="#111" stroke-width="1.4"/>
<text transform="translate(260.97 184.60)" font-size="5.8" font-weight="bold" stroke="#111" stroke-width="0.35">1</text>
<line x1="265.3" x2="270.0" y1="171.72" y2="171.72" stroke="#111" stroke-width="1.4"/>
<text transform="translate(260.97 173.82)" font-size="5.8" font-weight="bold" stroke="#111" stroke-width="0.35">2</text>
<line x1="265.3" x2="270.0" y1="160.94" y2="160.94" stroke="#111" stroke-width="1.4"/>
<text transform="translate(260.97 163.04)" font-size="5.8" font-weight="bold" stroke="#111" stroke-width="0.35">3</text>
<line x1="265.3" x2="270.0" y1="150.16" y2="150.16" stroke="#111" stroke-width="1.4"/>
<text transform="translate(260.97 152.26)" font-size="5.8" font-weight="bold" stroke="#111" stroke-width="0.35">4</text>
<line x1="265.3" x2="270.0" y1="139.38" y2="139.38" stroke="#111" stroke-width="1.4"/>
<text transform="translate(260.97 141.48)" font-size="5.8" font-weight="bold" stroke="#111" stroke-width="0.35">5</text>
<line x1="265.3" x2="270.0" y1="128.60" y2="128.60" stroke="#111" stroke-width="1.4"/>
<text transform="translate(260.97 130.70)" font-size="5.8" font-weight="bold" stroke="#111" stroke-width="0.35">6</text>
<line x1="265.3" x2="270.0" y1="117.82" y2="117.82" stroke="#111" stroke-width="1.4"/>
<text transform="translate(260.97 119.92)" font-size="5.8" font-weight="bold" stroke="#111" stroke-width="0.35">7</text>
<line x1="265.3" x2="270.0" y1="107.04" y2="107.04" stroke="#111" stroke-width="1.4"/>
<text transform="translate(260.97 109.14)" font-size="5.8" font-weight="bold" stroke="#111" stroke-width="0.35">8</text>
<line x1="265.3" x2="270.0" y1="96.26" y2="96.26" stroke="#111" stroke-width="1.4"/>
<text transform="translate(260.97 98.36)" font-size="5.8" font-weight="bold" stroke="#111" stroke-width="0.35">9</text>
<line x1="265.3" x2="270.0" y1="85.48" y2="85.48" stroke="#111" stroke-width="1.4"/>
<text transform="translate(257.75 87.58)" font-size="5.8" font-weight="bold" stroke="#111" stroke-width="0.35">10</text>
<line x1="265.3" x2="270.0" y1="74.70" y2="74.70" stroke="#111" stroke-width="1.4"/>
<text transform="translate(257.75 76.80)" font-size="5.8" font-weight="bold" stroke="#111" stroke-width="0.35">11</text>
<line x1="265.3" x2="270.0" y1="63.92" y2="63.92" stroke="#111" stroke-width="1.4"/>
<text transform="translate(257.75 66.02)" font-size="5.8" font-weight="bold" stroke="#111" stroke-width="0.35">12</text>
<line x1="270.00" x2="270.00" y1="189.4" y2="193.7" stroke="#111" stroke-width="1.4"/>
<text transform="translate(268.22 201.30)" font-size="6.4" font-weight="bold" stroke="#111" stroke-width="0.35">0</text>
<line x1="284.29" x2="284.29" y1="189.4" y2="193.7" stroke="#111" stroke-width="1.4"/>
<text transform="translate(280.73 201.30)" font-size="6.4" font-weight="bold" stroke="#111" stroke-width="0.35">30</text>
<line x1="298.58" x2="298.58" y1="189.4" y2="193.7" stroke="#111" stroke-width="1.4"/>
<text transform="translate(295.02 201.30)" font-size="6.4" font-weight="bold" stroke="#111" stroke-width="0.35">60</text>
<line x1="312.87" x2="312.87" y1="189.4" y2="193.7" stroke="#111" stroke-width="1.4"/>
<text transform="translate(309.31 201.30)" font-size="6.4" font-weight="bold" stroke="#111" stroke-width="0.35">90</text>
<line x1="327.16" x2="327.16" y1="189.4" y2="193.7" stroke="#111" stroke-width="1.4"/>
<text transform="translate(321.82 201.30)" font-size="6.4" font-weight="bold" stroke="#111" stroke-width="0.35">120</text>
<line x1="341.45" x2="341.45" y1="189.4" y2="193.7" stroke="#111" stroke-width="1.4"/>
<text transform="translate(336.11 201.30)" font-size="6.4" font-weight="bold" stroke="#111" stroke-width="0.35">150</text>
<line x1="355.74" x2="355.74" y1="189.4" y2="193.7" stroke="#111" stroke-width="1.4"/>
<text transform="translate(350.40 201.30)" font-size="6.4" font-weight="bold" stroke="#111" stroke-width="0.35">180</text>
<line x1="370.03" x2="370.03" y1="189.4" y2="193.7" stroke="#111" stroke-width="1.4"/>
<text transform="translate(364.69 201.30)" font-size="6.4" font-weight="bold" stroke="#111" stroke-width="0.35">210</text>
<line x1="384.32" x2="384.32" y1="189.4" y2="193.7" stroke="#111" stroke-width="1.4"/>
<text transform="translate(378.98 201.30)" font-size="6.4" font-weight="bold" stroke="#111" stroke-width="0.35">240</text>
<line x1="398.61" x2="398.61" y1="189.4" y2="193.7" stroke="#111" stroke-width="1.4"/>
<text transform="translate(393.27 201.30)" font-size="6.4" font-weight="bold" stroke="#111" stroke-width="0.35">270</text>
<line x1="412.90" x2="412.90" y1="189.4" y2="193.7" stroke="#111" stroke-width="1.4"/>
<text transform="translate(407.56 201.30)" font-size="6.4" font-weight="bold" stroke="#111" stroke-width="0.35">300</text>
<line x1="427.19" x2="427.19" y1="189.4" y2="193.7" stroke="#111" stroke-width="1.4"/>
<text transform="translate(421.85 201.30)" font-size="6.4" font-weight="bold" stroke="#111" stroke-width="0.35">330</text>
<line x1="441.48" x2="441.48" y1="189.4" y2="193.7" stroke="#111" stroke-width="1.4"/>
<text transform="translate(436.14 201.30)" font-size="6.4" font-weight="bold" stroke="#111" stroke-width="0.35">360</text>
<line x1="455.77" x2="455.77" y1="189.4" y2="193.7" stroke="#111" stroke-width="1.4"/>
<text transform="translate(450.43 201.30)" font-size="6.4" font-weight="bold" stroke="#111" stroke-width="0.35">390</text>
<line x1="470.06" x2="470.06" y1="189.4" y2="193.7" stroke="#111" stroke-width="1.4"/>
<text transform="translate(464.72 201.30)" font-size="6.4" font-weight="bold" stroke="#111" stroke-width="0.35">420</text>
<line x1="484.35" x2="484.35" y1="189.4" y2="193.7" stroke="#111" stroke-width="1.4"/>
<text transform="translate(479.01 201.30)" font-size="6.4" font-weight="bold" stroke="#111" stroke-width="0.35">450</text>
<line x1="498.64" x2="498.64" y1="189.4" y2="193.7" stroke="#111" stroke-width="1.4"/>
<text transform="translate(493.30 201.30)" font-size="6.4" font-weight="bold" stroke="#111" stroke-width="0.35">480</text>
<line x1="512.93" x2="512.93" y1="189.4" y2="193.7" stroke="#111" stroke-width="1.4"/>
<text transform="translate(507.59 201.30)" font-size="6.4" font-weight="bold" stroke="#111" stroke-width="0.35">510</text>
<text transform="translate(383.91 211.80)" font-size="6.1" font-weight="bold" stroke="#111" stroke-width="0.35">Days</text>
<text transform="rotate(-90 244.6 124.5) translate(228.93 124.50)" font-size="6" font-weight="bold" stroke="#111" stroke-width="0.35">Patient No.</text>
<line x1="448" x2="458.7" y1="63.6" y2="63.6" stroke="#E8A2AA" stroke-width="2.2"/>
<text transform="translate(465.00 66.00)" font-size="6.4" fill="#2e2e2e" stroke="#2e2e2e" stroke-width="0.17">Active disease</text>
<line x1="448" x2="458.7" y1="75.9" y2="75.9" stroke="#8CC24E" stroke-width="2.2"/>
<text transform="translate(465.00 78.30)" font-size="6.4" fill="#2e2e2e" stroke="#2e2e2e" stroke-width="0.17">CR</text>
<line x1="448" x2="458.7" y1="87.9" y2="87.9" stroke="#E6D54E" stroke-width="2.2"/>
<text transform="translate(465.00 90.30)" font-size="6.4" fill="#2e2e2e" stroke="#2e2e2e" stroke-width="0.17">PR</text>
<line x1="448" x2="458.7" y1="100.0" y2="100.0" stroke="#F05058" stroke-width="2.2"/>
<text transform="translate(465.00 102.40)" font-size="6.4" fill="#2e2e2e" stroke="#2e2e2e" stroke-width="0.17">NR</text>
<line x1="448" x2="458.7" y1="111.8" y2="111.8" stroke="#B00010" stroke-width="2.2"/>
<text transform="translate(465.00 114.20)" font-size="6.4" fill="#2e2e2e" stroke="#2e2e2e" stroke-width="0.17">Relapse</text>
<line x1="448" x2="457.5" y1="123.4" y2="123.4" stroke="#111" stroke-width="1.3"/>
<rect x="456.4" y="121.30" width="1.6" height="4.2" fill="#111"/>
<text transform="translate(465.00 125.80)" font-size="6.4" fill="#2e2e2e" stroke="#2e2e2e" stroke-width="0.17">Died</text>
<line x1="448" x2="455.5" y1="135.8" y2="135.8" stroke="#111" stroke-width="1.3"/>
<path d="M458.6 135.8L455.0 134.0L455.0 137.60000000000002Z" fill="#111"/>
<text transform="translate(465.00 138.20)" font-size="6.4" fill="#2e2e2e" stroke="#2e2e2e" stroke-width="0.17">Alive</text>
<path d="M452.6 144.6L454.3 151.3L450.9 151.3Z" fill="#E2C35A"/>
<text transform="translate(465.00 150.70)" font-size="6.4" fill="#2e2e2e" stroke="#2e2e2e" stroke-width="0.17">Allo-HSCT</text>
<text transform="translate(6.50 8.40) scale(0.9926 1.0800)" font-size="6.25" font-weight="bold" stroke="#111" stroke-width="0.19">Table 1. Characteristics, efficacy and adverse events of patients</text>
<text transform="translate(253.80 230.90) scale(1.0000 1.0600)" font-size="6.12" font-weight="bold" stroke="#111" stroke-width="0.15">Figure</text>
<text transform="translate(275.88 230.90) scale(1.0000 1.0600)" font-size="6.12" font-weight="bold" stroke="#111" stroke-width="0.15">1</text>
<text transform="translate(282.65 230.90) scale(1.0000 1.0600)" font-size="6.12" font-weight="bold" stroke="#111" stroke-width="0.15">The</text>
<text transform="translate(296.91 230.90) scale(1.0000 1.0600)" font-size="6.12" font-weight="bold" stroke="#111" stroke-width="0.15">clinical</text>
<text transform="translate(321.03 230.90) scale(1.0000 1.0600)" font-size="6.12" font-weight="bold" stroke="#111" stroke-width="0.15">outcome</text>
<text transform="translate(349.91 230.90) scale(1.0000 1.0600)" font-size="6.12" font-weight="bold" stroke="#111" stroke-width="0.15">of</text>
<text transform="translate(359.06 230.90) scale(1.0000 1.0600)" font-size="6.12" font-weight="bold" stroke="#111" stroke-width="0.15">the</text>
<text transform="translate(371.62 230.90) scale(1.0000 1.0600)" font-size="6.12" font-weight="bold" stroke="#111" stroke-width="0.15">12</text>
<text transform="translate(381.80 230.90) scale(1.0000 1.0600)" font-size="6.12" font-weight="bold" stroke="#111" stroke-width="0.15">elderly</text>
<text transform="translate(404.90 230.90) scale(1.0000 1.0600)" font-size="6.12" font-weight="bold" stroke="#111" stroke-width="0.15">patients</text>
<text transform="translate(431.74 230.90) scale(1.0000 1.0600)" font-size="6.12" font-weight="bold" stroke="#111" stroke-width="0.15">with</text>
<text transform="translate(447.35 230.90) scale(1.0000 1.0600)" font-size="6.12" font-weight="bold" stroke="#111" stroke-width="0.15">newly</text>
<text transform="translate(467.74 230.90) scale(1.0000 1.0600)" font-size="6.12" font-weight="bold" stroke="#111" stroke-width="0.15">diagnosed</text>
<text transform="translate(501.71 230.90) scale(1.0000 1.0600)" font-size="6.12" font-weight="bold" stroke="#111" stroke-width="0.15">acute</text>
<text transform="translate(253.80 246.00) scale(1.0076 1.0600)" font-size="6.12" font-weight="bold" stroke="#111" stroke-width="0.15">myeloid leukemia who were treated with modified DAV.</text>
</svg>
</body></html>
